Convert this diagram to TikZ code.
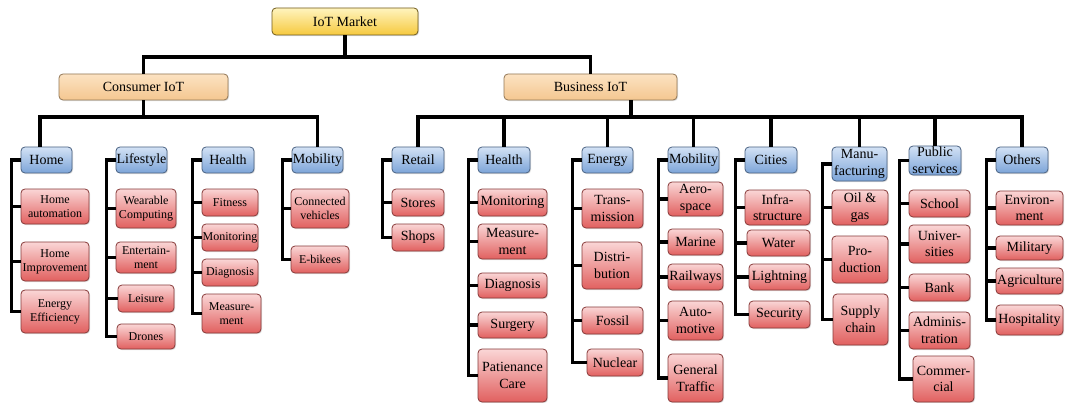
\documentclass[tikz,border=0pt]{standalone}
\usepackage{fontspec}
\setmainfont{Liberation Serif}
\usetikzlibrary{shadows}

\definecolor{rootTop}{HTML}{FFF4BE}
\definecolor{rootBot}{HTML}{F6C93E}
\definecolor{grpTop}{HTML}{FCE2C2}
\definecolor{grpBot}{HTML}{F4C790}
\definecolor{catTop}{HTML}{D3E2F5}
\definecolor{catBot}{HTML}{7CA4D8}
\definecolor{leafTop}{HTML}{FAD6D6}
\definecolor{leafBot}{HTML}{E1605F}

\tikzset{
  wh/.style 2 args={minimum width=#1*0.75pt, minimum height=#2*0.75pt},
  box/.style={rounded corners=3pt, align=center, inner xsep=0.5pt, inner ysep=0pt,
    line width=0.6pt, drop shadow={opacity=0.25, shadow xshift=0.8pt, shadow yshift=-0.8pt}},
  rootbox/.style={box, draw=black!55!rootBot, top color=rootTop, bottom color=rootBot,
    font=\fontsize{10.5}{12.5}\selectfont},
  grpbox/.style={box, draw=black!40!grpBot, top color=grpTop, bottom color=grpBot,
    font=\fontsize{10.5}{12.5}\selectfont},
  catbox/.style={box, draw=black!40!catBot, top color=catTop, bottom color=catBot,
    font=\fontsize{10.5}{12.5}\selectfont},
  leafbox/.style={box, draw=black!40!leafBot, top color=leafTop, bottom color=leafBot,
    font=\fontsize{10.5}{12.5}\selectfont},
  smallleaf/.style={leafbox, font=\fontsize{9}{10.5}\selectfont},
  conn/.style={line width=2.3pt, black}
}

\begin{document}
\begin{tikzpicture}[x=0.75pt, y=-0.75pt]
  \useasboundingbox[fill=white] (0,0) rectangle (1065,403);

  \node[rootbox, wh={146}{27}] (root) at (345,21.5) {IoT Market};
  \node[grpbox, wh={169}{26}] (cons) at (143.5,87) {Consumer IoT};
  \node[grpbox, wh={173}{26}] (bus) at (590.5,87) {Business IoT};

  \node[catbox, wh={51}{26}] (home) at (46.5,160) {Home};
  \node[catbox, wh={51}{26}] (life) at (141.5,160) {Lifestyle};
  \node[catbox, wh={52}{26}] (chea) at (228,160) {Health};
  \node[catbox, wh={51}{26}] (cmob) at (317.5,160) {Mobility};
  \node[catbox, wh={52}{26}] (ret) at (418,160) {Retail};
  \node[catbox, wh={52}{26}] (bhea) at (504,160) {Health};
  \node[catbox, wh={51}{26}] (ene) at (607.5,160) {Energy};
  \node[catbox, wh={51}{26}] (bmob) at (693.5,160) {Mobility};
  \node[catbox, wh={52}{26}] (cit) at (771,160) {Cities};
  \node[catbox, wh={55}{34}] (man) at (859.5,164) {Manu-\\facturing};
  \node[catbox, wh={52}{29}] (pub) at (935,160.5) {Public\\services};
  \node[catbox, wh={52}{26}] (oth) at (1022,160) {Others};

  \node[smallleaf, wh={68}{35}] (hm1) at (55,206.5) {Home\\automation};
  \node[smallleaf, wh={68}{39}] (hm2) at (55,261.5) {Home\\Improvement};
  \node[smallleaf, wh={68}{43}] (hm3) at (55,311.5) {Energy\\Efficiency};

  \node[smallleaf, wh={60}{39}] (lf1) at (146,208.5) {Wearable\\Computing};
  \node[smallleaf, wh={60}{31}] (lf2) at (146,257.5) {Entertain-\\ment};
  \node[smallleaf, wh={56}{27}] (lf3) at (146,298.5) {Leisure};
  \node[smallleaf, wh={58}{25}] (lf4) at (146,336.5) {Drones};

  \node[smallleaf, wh={56}{27}] (ch1) at (230,202.5) {Fitness};
  \node[smallleaf, wh={56}{27}] (ch2) at (230,237.5) {Monitoring};
  \node[smallleaf, wh={56}{27}] (ch3) at (230,272.5) {Diagnosis};
  \node[smallleaf, wh={59}{39}] (ch4) at (231.5,313.5) {Measure-\\ment};

  \node[smallleaf, wh={58}{39}] (cm1) at (320,208.5) {Connected\\vehicles};
  \node[smallleaf, wh={58}{27}] (cm2) at (320,259.5) {E-bikees};

  \node[leafbox, wh={52}{27}] (rt1) at (418,202.5) {Stores};
  \node[leafbox, wh={52}{27}] (rt2) at (418,237.5) {Shops};

  \node[leafbox, wh={69}{27}] (bh1) at (512.5,202.5) {Monitoring};
  \node[leafbox, wh={69}{35}] (bh2) at (512.5,241.5) {Measure-\\ment};
  \node[leafbox, wh={69}{25}] (bh3) at (512.5,285.5) {Diagnosis};
  \node[leafbox, wh={69}{26}] (bh4) at (512.5,325) {Surgery};
  \node[leafbox, wh={69}{53}] (bh5) at (512.5,375.5) {Patienance\\Care};

  \node[leafbox, wh={61}{39}] (en1) at (612.5,208.5) {Trans-\\mission};
  \node[leafbox, wh={60}{47}] (en2) at (612,265.5) {Distri-\\bution};
  \node[leafbox, wh={61}{27}] (en3) at (612.5,320.5) {Fossil};
  \node[leafbox, wh={56}{27}] (en4) at (615,362.5) {Nuclear};

  \node[leafbox, wh={55}{34}] (bm1) at (695.5,199) {Aero-\\space};
  \node[leafbox, wh={55}{26}] (bm2) at (695.5,242) {Marine};
  \node[leafbox, wh={55}{26}] (bm3) at (695.5,277) {Railways};
  \node[leafbox, wh={55}{39}] (bm4) at (695.5,320.5) {Auto-\\motive};
  \node[leafbox, wh={55}{48}] (bm5) at (695.5,378) {General\\Traffic};

  \node[leafbox, wh={65}{35}] (ct1) at (777.5,207.5) {Infra-\\structure};
  \node[leafbox, wh={63}{26}] (ct2) at (778.5,243) {Water};
  \node[leafbox, wh={61}{26}] (ct3) at (779.5,277) {Lightning};
  \node[leafbox, wh={61}{27}] (ct4) at (779.5,314.5) {Security};

  \node[leafbox, wh={56}{35}] (mf1) at (860,207.5) {Oil \&\\gas};
  \node[leafbox, wh={56}{47}] (mf2) at (860,259.5) {Pro-\\duction};
  \node[leafbox, wh={55}{51}] (mf3) at (860.5,319.5) {Supply\\chain};

  \node[leafbox, wh={61}{27}] (pb1) at (939.5,203.5) {School};
  \node[leafbox, wh={61}{38}] (pb2) at (939.5,244) {Univer-\\sities};
  \node[leafbox, wh={61}{27}] (pb3) at (939.5,287.5) {Bank};
  \node[leafbox, wh={61}{37}] (pb4) at (939.5,330.5) {Adminis-\\tration};
  \node[leafbox, wh={61}{46}] (pb5) at (943.5,379) {Commer-\\cial};

  \node[leafbox, wh={67}{34}] (ot1) at (1029.5,208) {Environ-\\ment};
  \node[leafbox, wh={67}{24}] (ot2) at (1029.5,248) {Military};
  \node[leafbox, wh={67}{26}] (ot3) at (1029.5,281) {Agriculture};
  \node[leafbox, wh={67}{30}] (ot4) at (1029.5,320) {Hospitality};

  \coordinate (rootbar) at (345,57);
  \coordinate (consbar) at (143.5,117);
  \coordinate (hmtop) at (40,147);
  \coordinate (busdrop) at (631,117);

  \draw[conn] (root) -- (rootbar);
  \draw[conn] (cons) |- (rootbar) -| (bus);
  \draw[conn] (cons) -- (consbar);
  \draw[conn] (hmtop) |- (consbar) -| (cmob);
  \draw[conn] (bus.south -| busdrop) -- (busdrop);
  \draw[conn] (ret) |- (busdrop) -| (oth);
  \foreach \n in {bhea,ene,bmob,cit,man,pub}
    \draw[conn] (\n) -- (\n |- busdrop);

  \foreach \cat/\last/\rest in {home/hm3/{hm1,hm2}, life/lf4/{lf1,lf2,lf3},
      chea/ch4/{ch1,ch2,ch3}, cmob/cm2/{cm1}, ret/rt2/{rt1},
      bhea/bh5/{bh1,bh2,bh3,bh4}, ene/en4/{en1,en2,en3},
      bmob/bm5/{bm1,bm2,bm3,bm4}, cit/ct4/{ct1,ct2,ct3},
      man/mf3/{mf1,mf2}, pub/pb5/{pb1,pb2,pb3,pb4}, oth/ot4/{ot1,ot2,ot3}} {
    \draw[conn] (\cat.west) -- ++(-9,0) coordinate (\cat L) |- (\last.west);
    \foreach \c in \rest
      \draw[conn] (\c.west) -- (\c.west -| \cat L);
  }
\end{tikzpicture}
\end{document}
